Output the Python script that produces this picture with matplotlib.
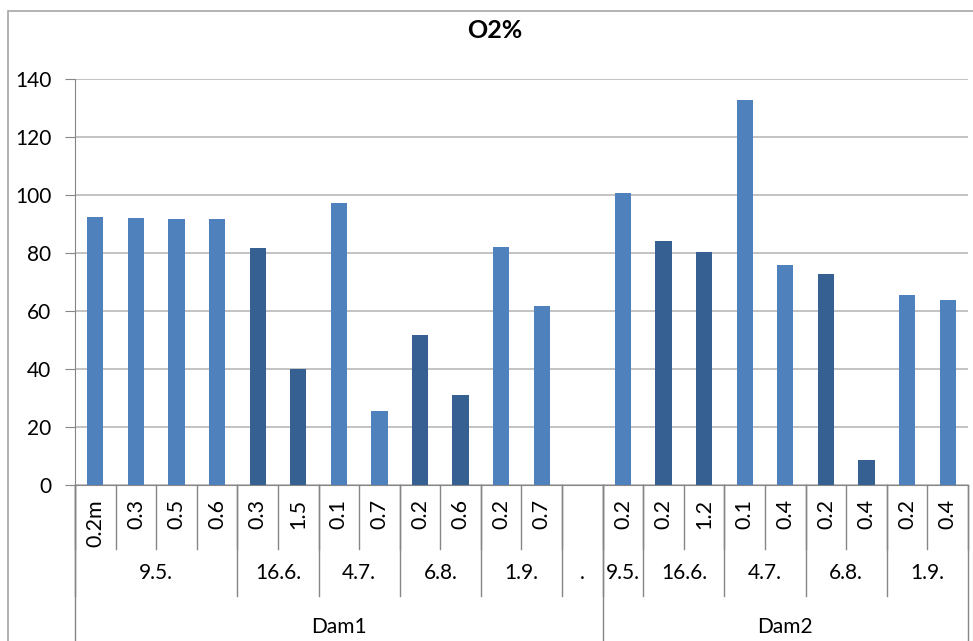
import numpy as np
from matplotlib import pyplot as plt
from matplotlib.patches import Rectangle

# bar labels (depth), one per category slot; '' is the empty "." slot
DEPTHS = ["0.2m", "0.3", "0.5", "0.6", "0.3", "1.5", "0.1", "0.7", "0.2", "0.6", "0.2", "0.7", "",
          "0.2", "0.2", "1.2", "0.1", "0.4", "0.2", "0.4", "0.2", "0.4"]
O2 = [92.3, 91.9, 91.7, 91.8, 81.6, 40.0, 97.3, 25.5, 51.7, 31.0, 82.0, 61.7, np.nan,
      100.6, 84.3, 80.5, 132.9, 75.9, 72.9, 8.6, 65.5, 63.8]
DATES = ["9.5.", "16.6.", "4.7.", "6.8.", "1.9.", ".", "9.5.", "16.6.", "4.7.", "6.8.", "1.9."]
DATE_COUNTS = [4, 2, 2, 2, 2, 1, 1, 2, 2, 2, 2]
DAMS = ["Dam1", "Dam2"]
DAM_COUNTS = [13, 9]
DARK_DATES = ["16.6.", "6.8."]

LIGHT = "#4F81BD"
DARK = "#376092"
AXIS = "#868686"
GRID = "#BEBEBE"

plt.rcParams['font.family'] = ['Lato', 'DejaVu Sans']

W, H = 973, 641
fig = plt.figure(figsize=(W / 100, H / 100), dpi=100)
L, R, T, B = 75, 968, 79, 485
ax = fig.add_axes([L / W, 1 - B / H, (R - L) / W, (B - T) / H])

# outer chart border
fig.patches.append(Rectangle((7.5 / W, -0.1), 1.2, 1 - 10.5 / H + 0.1, transform=fig.transFigure,
                             fill=False, edgecolor="#A6A6A6", linewidth=1.2))

colors = []
for d, n in zip(DATES, DATE_COUNTS):
    colors += [DARK if d in DARK_DATES else LIGHT] * n

x = np.arange(len(O2))
ax.bar(x, O2, width=0.4, color=colors, zorder=3)

ax.set_xlim(-0.5, len(O2) - 0.5)
ax.set_ylim(0, 140)
ax.set_yticks(np.arange(0, 141, 20))
ax.tick_params(axis='y', labelsize=15, length=7, color=AXIS, pad=10)
ax.set_xticks([])
ax.grid(axis='y', color=GRID, linewidth=1.3, zorder=0)
for s in ["top", "right"]:
    ax.spines[s].set_visible(False)
ax.spines["left"].set_color(AXIS)
ax.spines["bottom"].set_color(AXIS)

ax.set_title("O2%", fontsize=18, fontweight="bold", x=(495 - L) / (R - L), y=1 + (T - 39) / (B - T), va="center")

trans = ax.get_xaxis_transform()
ph = B - T


def fy(py):
    return (B - py) / ph


lvl1, lvl2, bottom = fy(549), fy(596), fy(H + 5)

# depth level
for i in range(len(O2) + 1):
    ax.plot([i - 0.5, i - 0.5], [0, lvl1], color=AXIS, lw=1, transform=trans, clip_on=False)
for i, lab in enumerate(DEPTHS):
    ax.text(i, fy(499), lab, rotation=90, ha="center", va="top", fontsize=15.5,
            transform=trans, clip_on=False)

# date level
start = 0
for d, n in zip(DATES, DATE_COUNTS):
    ax.plot([start - 0.5, start - 0.5], [0, lvl2], color=AXIS, lw=1, transform=trans, clip_on=False)
    ax.text(start + (n - 1) / 2, fy(573), d, ha="center", va="center", fontsize=15,
            transform=trans, clip_on=False)
    start += n

# dam level
start = 0
for d, n in zip(DAMS, DAM_COUNTS):
    ax.plot([start - 0.5, start - 0.5], [0, bottom], color=AXIS, lw=1, transform=trans, clip_on=False)
    ax.text(start + (n - 1) / 2, fy(627), d, ha="center", va="center", fontsize=15,
            transform=trans, clip_on=False)
    start += n
ax.plot([start - 0.5, start - 0.5], [0, bottom], color=AXIS, lw=1, transform=trans, clip_on=False)

fig.savefig("out.png", dpi=100)
